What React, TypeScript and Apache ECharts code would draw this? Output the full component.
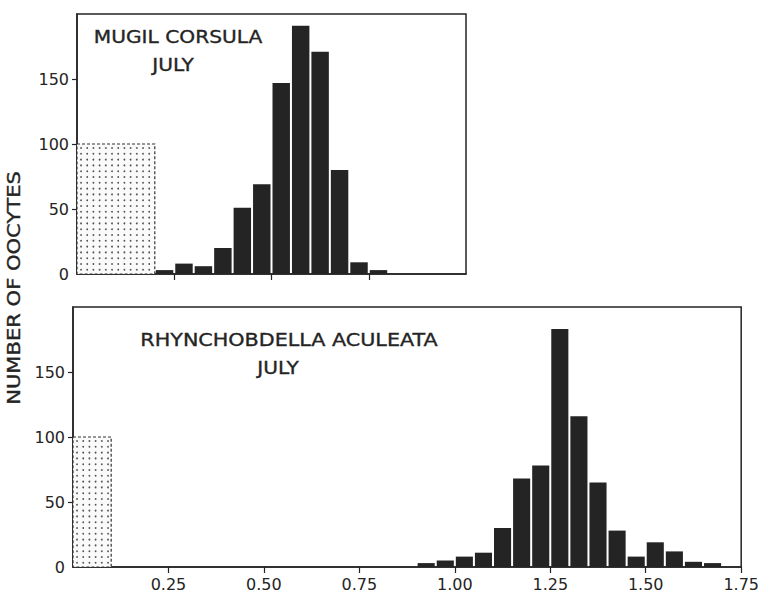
import React, { useEffect, useRef } from "react";
import * as echarts from "echarts";

// Top panel: Mugil corsula, July
const topBinStarts = [0.2, 0.25, 0.3, 0.35, 0.4, 0.45, 0.5, 0.55, 0.6, 0.65, 0.7, 0.75];
const topBinEnds = [0.25, 0.3, 0.35, 0.4, 0.45, 0.5, 0.55, 0.6, 0.65, 0.7, 0.75, 0.8];
const topCounts = [3, 8, 6, 20, 51, 69, 147, 191, 171, 80, 9, 3];
const topScaleBlock = [0, 0.2, 100];

// Bottom panel: Rhynchobdella aculeata, July
const botBinStarts = [0.9, 0.95, 1.0, 1.05, 1.1, 1.15, 1.2, 1.25, 1.3, 1.35, 1.4, 1.45, 1.5, 1.55, 1.6, 1.65];
const botBinEnds = [0.95, 1.0, 1.05, 1.1, 1.15, 1.2, 1.25, 1.3, 1.35, 1.4, 1.45, 1.5, 1.55, 1.6, 1.65, 1.7];
const botCounts = [3, 5, 8, 11, 30, 68, 78, 183, 116, 65, 28, 8, 19, 12, 4, 3];
const botScaleBlock = [0, 0.1, 100];

const yLabelValues = [0, 50, 100, 150];
const yTickValues = [50, 100, 150];
const topXTicks = [0.25, 0.5, 0.75];
const botXTicks = [0.25, 0.5, 0.75, 1.0, 1.25, 1.5, 1.75];

const INK = "#242424";
const FONT = "DejaVu Sans";

function histRender(params: any, api: any) {
  const s = api.value(0);
  const e = api.value(1);
  const v = api.value(2);
  const p0 = api.coord([s, 0]);
  const p1 = api.coord([e, v]);
  return {
    type: "rect",
    shape: { x: p0[0] + 1, y: p1[1], width: p1[0] - p0[0] - 2, height: p0[1] - p1[1] },
    style: { fill: INK },
  };
}

function stippleRender(params: any, api: any) {
  const s = api.value(0);
  const e = api.value(1);
  const v = api.value(2);
  const p0 = api.coord([s, 0]);
  const p1 = api.coord([e, v]);
  const x0 = p0[0], x1 = p1[0], y0 = p1[1], y1 = p0[1];
  const children: any[] = [
    {
      type: "rect",
      shape: { x: x0, y: y0, width: x1 - x0, height: y1 - y0 },
      style: { fill: "#fafafa", stroke: "#333", lineWidth: 1.2, lineDash: [3, 2] },
    },
  ];
  for (let x = x0 + 4; x < x1 - 2; x += 6.2) {
    for (let y = y0 + 4; y < y1 - 2; y += 5.8) {
      children.push({ type: "circle", shape: { cx: x, cy: y, r: 0.9 }, style: { fill: "#555" } });
    }
  }
  return { type: "group", children };
}

function makeRows(starts: number[], ends: number[], counts: number[]) {
  return starts.map((s, i) => [s, ends[i], counts[i]]);
}

export default function App() {
  const ref = useRef<HTMLDivElement>(null);
  useEffect(() => {
    if (!ref.current) return;
    const chart = echarts.init(ref.current, undefined, { renderer: "svg" });
    const labelStyle = { color: INK, fontFamily: FONT, fontSize: 16 };
    const yAxisCommon = {
      type: "value",
      min: 0,
      max: 200,
      interval: 50,
      splitLine: { show: false },
      axisLine: { show: true, lineStyle: { color: INK, width: 1.5 } },
      axisTick: { show: true, length: 5, customValues: yTickValues, lineStyle: { color: INK, width: 1.2 } },
      axisLabel: { ...labelStyle, margin: 8, customValues: yLabelValues },
    };
    const titleStyle = (text: string, size: number) => ({
      text,
      fill: INK,
      stroke: INK,
      lineWidth: 0.35,
      font: `${size}px ${FONT}`,
      align: "center",
      verticalAlign: "middle",
    });
    chart.setOption({
      animation: false,
      backgroundColor: "#ffffff",
      grid: [
        { left: 77, top: 14, width: 389, height: 260, show: true, borderColor: INK, borderWidth: 1.5, containLabel: false },
        { left: 73, top: 307, width: 680, height: 260, show: true, borderColor: INK, borderWidth: 1.5, containLabel: false },
      ],
      xAxis: [
        {
          type: "value",
          gridIndex: 0,
          min: 0,
          max: 1,
          interval: 0.25,
          splitLine: { show: false },
          axisLine: { show: true, lineStyle: { color: INK, width: 1.5 } },
          axisTick: { show: true, length: 6, customValues: topXTicks, lineStyle: { color: INK, width: 1.2 } },
          axisLabel: { show: false },
        },
        {
          type: "value",
          gridIndex: 1,
          min: 0,
          max: 1.75,
          interval: 0.25,
          splitLine: { show: false },
          axisLine: { show: true, lineStyle: { color: INK, width: 1.5 } },
          axisTick: { show: true, length: 6, customValues: botXTicks, lineStyle: { color: INK, width: 1.2 } },
          axisLabel: {
            ...labelStyle,
            margin: 9,
            customValues: botXTicks,
            formatter: (v: number) => v.toFixed(2),
          },
        },
      ],
      yAxis: [
        { ...yAxisCommon, gridIndex: 0 },
        { ...yAxisCommon, gridIndex: 1 },
      ],
      series: [
        {
          type: "custom",
          xAxisIndex: 0,
          yAxisIndex: 0,
          renderItem: stippleRender,
          encode: { x: [0, 1], y: 2 },
          data: [topScaleBlock],
          silent: true,
        },
        {
          type: "custom",
          xAxisIndex: 0,
          yAxisIndex: 0,
          renderItem: histRender,
          encode: { x: [0, 1], y: 2 },
          data: makeRows(topBinStarts, topBinEnds, topCounts),
        },
        {
          type: "custom",
          xAxisIndex: 1,
          yAxisIndex: 1,
          renderItem: stippleRender,
          encode: { x: [0, 1], y: 2 },
          data: [botScaleBlock],
          silent: true,
        },
        {
          type: "custom",
          xAxisIndex: 1,
          yAxisIndex: 1,
          renderItem: histRender,
          encode: { x: [0, 1], y: 2 },
          data: makeRows(botBinStarts, botBinEnds, botCounts),
        },
      ],
      graphic: [
        { type: "text", x: 178, y: 37, scaleX: 1.12, style: titleStyle("MUGIL CORSULA", 18) },
        { type: "text", x: 173, y: 65, scaleX: 1.12, style: titleStyle("JULY", 18) },
        { type: "text", x: 289, y: 340, scaleX: 1.15, style: titleStyle("RHYNCHOBDELLA ACULEATA", 18) },
        { type: "text", x: 278, y: 368, scaleX: 1.12, style: titleStyle("JULY", 18) },
        {
          type: "text",
          x: 14,
          y: 288,
          rotation: Math.PI / 2,
          scaleX: 1.24,
          style: titleStyle("NUMBER OF OOCYTES", 17),
        },
      ],
    });
    return () => chart.dispose();
  }, []);
  return (
    <div
      ref={ref}
      style={{ position: "absolute", left: 0, top: 0, width: 762, height: 592, background: "#fff" }}
    />
  );
}
